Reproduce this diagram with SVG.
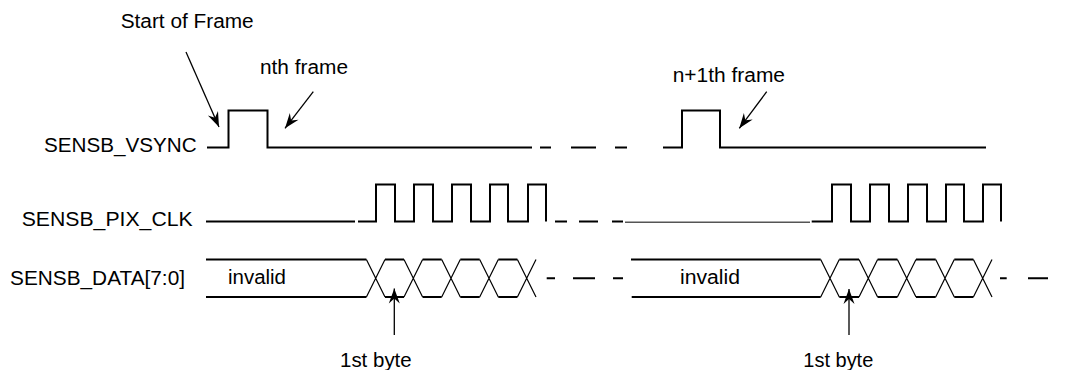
<svg xmlns="http://www.w3.org/2000/svg" width="1065" height="370" viewBox="0 0 1065 370">
<style>
text{font-family:"Liberation Sans",Arial,Helvetica,sans-serif;font-size:20px;fill:#000}
.sig{fill:none;stroke:#000;stroke-width:2;stroke-linecap:butt;stroke-linejoin:miter}
.diag{fill:none;stroke:#000;stroke-width:1.2}
.dash{fill:none;stroke:#000;stroke-width:2}
.thin{fill:none;stroke:#555;stroke-width:1.5}
.arr{fill:none;stroke:#000;stroke-width:1.3;marker-end:url(#ah)}
</style>
<defs>
<marker id="ah" viewBox="-16 -7 17 14" refX="0" refY="0" markerWidth="17" markerHeight="14" markerUnits="userSpaceOnUse" orient="auto">
<path d="M0,0 L-15,-5.5 L-10,0 L-15,5.5 Z" fill="#000"/>
</marker>
</defs>
<rect width="1065" height="370" fill="#fff"/>

<g id="labels">
<text x="44" y="152" textLength="152.7" lengthAdjust="spacingAndGlyphs">SENSB_VSYNC</text>
<text x="21.7" y="225.7" textLength="171" lengthAdjust="spacingAndGlyphs">SENSB_PIX_CLK</text>
<text x="10" y="285" textLength="175" lengthAdjust="spacingAndGlyphs">SENSB_DATA[7:0]</text>
</g>

<g id="annotations">
<text x="120.7" y="27.7" textLength="133" lengthAdjust="spacingAndGlyphs">Start of Frame</text>
<text x="260" y="74" textLength="88" lengthAdjust="spacingAndGlyphs">nth frame</text>
<text x="672.7" y="82.3" textLength="112.3" lengthAdjust="spacingAndGlyphs">n+1th frame</text>
<text x="340" y="366.7" textLength="71.7" lengthAdjust="spacingAndGlyphs">1st byte</text>
<text x="803.3" y="366.7" textLength="70" lengthAdjust="spacingAndGlyphs">1st byte</text>
</g>

<g id="vsync">
<path class="sig" d="M207,147.5 H228.5 V110.5 H267.5 V147.5 H532"/>
<path class="dash" d="M540,147.5 H551 M571,147.5 H596 M615,147.5 H627"/>
<path class="sig" d="M663,147.5 H682 V110.5 H720 V147.5 H986"/>
</g>

<g id="pix_clk">
<path class="sig" d="M206,221.5 H355 M358,221.5 H376 V184.5 H395 V221.5 H414 V184.5 H433 V221.5 H452 V184.5 H471 V221.5 H490 V184.5 H508 V221.5 H528 V184.5 H546 V221.5"/>
<path class="dash" d="M555,221.5 H567 M579,221.5 H598 M612,221.5 H623"/>
<path class="thin" d="M625,222.3 H810"/>
<path class="sig" d="M811.7,221.5 H832 V184.5 H851 V221.5 H870 V184.5 H889 V221.5 H908 V184.5 H927 V221.5 H946 V184.5 H964 V221.5 H983 V184.5 H1001 V221.5"/>
</g>

<g id="data">
<path class="sig" d="M206,259.5 H366.4 M385,259.5 H404 M422.6,259.5 H441.7 M460.3,259.5 H479.7 M498.3,259.5 H517.4 M206,297 H366.4 M385,297 H404 M422.6,297 H441.7 M460.3,297 H479.7 M498.3,297 H517.4"/>
<path class="diag" d="M366.4,259.5 L385,297 M366.4,297 L385,259.5 M404,259.5 L422.6,297 M404,297 L422.6,259.5 M441.7,259.5 L460.3,297 M441.7,297 L460.3,259.5 M479.7,259.5 L498.3,297 M479.7,297 L498.3,259.5 M517.4,259.5 L536,297 M517.4,297 L536,259.5"/>
<path class="dash" d="M546.7,278.3 H555 M573,278.3 H595 M613,278.3 H623"/>
<text x="228" y="284" textLength="58" lengthAdjust="spacingAndGlyphs">invalid</text>
<path class="sig" d="M631,259.5 H820.7 M839.3,259.5 H859 M877.6,259.5 H897.4 M916,259.5 H935.7 M954.3,259.5 H973.4 M631.7,297 H820.7 M839.3,297 H859 M877.6,297 H897.4 M916,297 H935.7 M954.3,297 H973.4"/>
<path class="diag" d="M820.7,259.5 L839.3,297 M820.7,297 L839.3,259.5 M859,259.5 L877.6,297 M859,297 L877.6,259.5 M897.4,259.5 L916,297 M897.4,297 L916,259.5 M935.7,259.5 L954.3,297 M935.7,297 L954.3,259.5 M973.4,259.5 L992,297 M973.4,297 L992,259.5"/>
<path class="dash" d="M1000,278.3 H1006.7 M1028,278.3 H1048"/>
<text x="680" y="283.5" textLength="60" lengthAdjust="spacingAndGlyphs">invalid</text>
</g>

<g id="connectors">
<line class="arr" x1="186" y1="52" x2="219" y2="127"/>
<line class="arr" x1="313.3" y1="91.7" x2="285" y2="128.3"/>
<line class="arr" x1="766.7" y1="91.7" x2="739.3" y2="128.3"/>
<line class="arr" x1="394.3" y1="335" x2="394.3" y2="288.5"/>
<line class="arr" x1="849" y1="335" x2="849" y2="289"/>
</g>
</svg>
